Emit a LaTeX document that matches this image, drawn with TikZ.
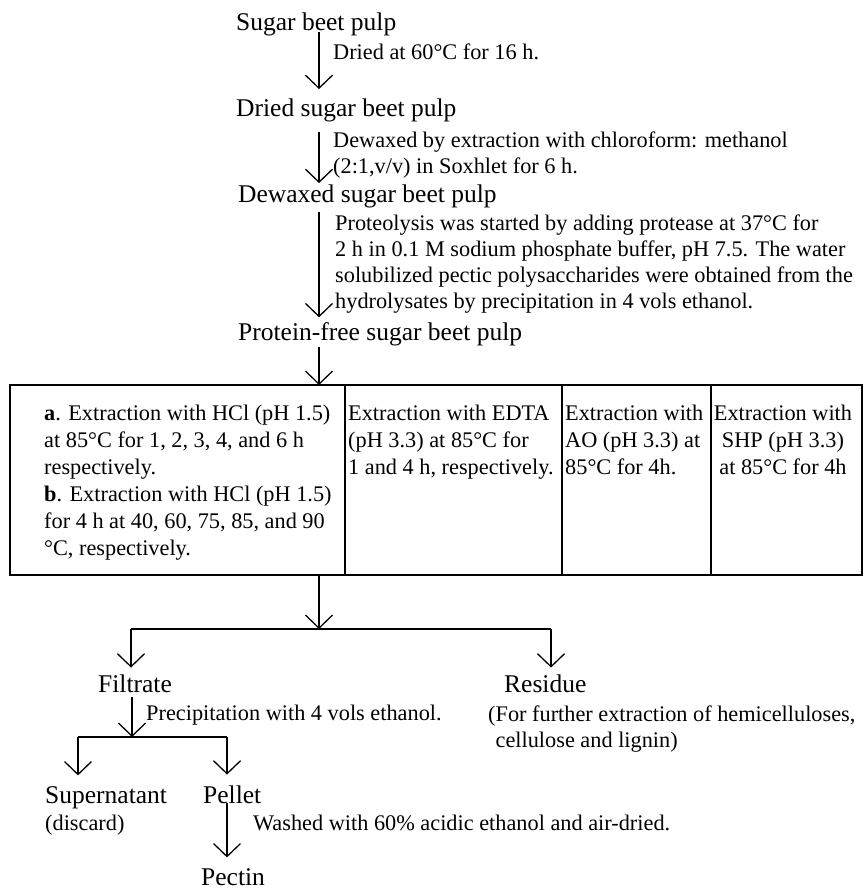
\documentclass[tikz,border=0pt]{standalone}
\usepackage{fontspec}
\setmainfont{Liberation Serif}
\usetikzlibrary{arrows.meta}
\tikzset{
  stage/.style={inner sep=0pt, anchor=base west, font=\fontsize{25.5}{30}\selectfont},
  note/.style={inner sep=0pt, anchor=base west, align=left, font=\fontsize{22.3}{26}\selectfont},
  cell/.style={draw, line width=1.3pt, inner sep=0pt, outer sep=0pt, anchor=north west, minimum height=190pt},
  cellnote/.style={inner sep=0pt, anchor=base west, align=left, font=\fontsize{22.3}{27}\selectfont},
  flow/.style={line width=1.3pt, -{Straight Barb[length=13pt,width=27pt]}},
  link/.style={line width=1.3pt}
}
\begin{document}
\begin{tikzpicture}[x=1pt, y=-1pt]
\useasboundingbox (0,0) rectangle (864,888);
\coordinate (ax) at (319,0);
\node[stage] (sbp) at (236,31) {Sugar beet pulp};
\node[note] (dry) at (333,60) {Dried at 60°C for 16 h.};
\node[stage] (dsbp) at (236,117) {Dried sugar beet pulp};
\node[note] (dewax) at (333,173) {Dewaxed by extraction with chloroform: methanol\\(2:1,v/v) in Soxhlet for 6 h.};
\node[stage] (dwsbp) at (238,202) {Dewaxed sugar beet pulp};
\node[note] (prot) at (335,308) {Proteolysis was started by adding protease at 37°C for\\2 h in 0.1 M sodium phosphate buffer, pH 7.5. The water\\solubilized pectic polysaccharides were obtained from the\\hydrolysates by precipitation in 4 vols ethanol.};
\node[stage] (pfsbp) at (238,340) {Protein-free sugar beet pulp};
\draw[flow] ([yshift=-1pt]sbp.base -| ax) -- ([yshift=10pt]dsbp.north -| ax);
\draw[flow] ([yshift=-9pt]dsbp.south -| ax) -- ([yshift=1pt]dwsbp.north -| ax);
\draw[flow] ([yshift=-4.5pt]dwsbp.south -| ax) -- ([yshift=4.5pt]pfsbp.north -| ax);
\node[cell, minimum width=335pt] (cella) at (10,385) {};
\node[cell, minimum width=217pt] (cellb) at (cella.north east) {};
\node[cell, minimum width=149pt] (cellc) at (cellb.north east) {};
\node[cell, minimum width=151pt] (celld) at (cellc.north east) {};
\draw[flow] ([yshift=-1.5pt]pfsbp.south -| ax) -- (cella.north -| ax);
\node[cellnote] (hcl) at (44,555) {\textbf{a}. Extraction with HCl (pH 1.5)\\at 85°C for 1, 2, 3, 4, and 6 h\\respectively.\\\textbf{b}. Extraction with HCl (pH 1.5)\\for 4 h at 40, 60, 75, 85, and 90\\°C, respectively.};
\node[cellnote] (edta) at (348,474) {Extraction with EDTA\\(pH 3.3) at 85°C for\\1 and 4 h, respectively.};
\node[cellnote] (ao) at (565,474) {Extraction with\\AO (pH 3.3) at\\85°C for 4h.};
\node[cellnote, anchor=base, align=center] (shp) at (783,474) {Extraction with\\SHP (pH 3.3)\\at 85°C for 4h};
\coordinate (spl) at (ax |- 0,629);
\coordinate (fl) at (131,629);
\coordinate (rl) at (551,629);
\draw[flow] (cella.south -| ax) -- (spl);
\draw[link] (fl) -- (rl);
\node[stage] (filt) at (98,692) {Filtrate};
\node[stage] (resid) at (504,692) {Residue};
\draw[flow] (fl) -- ([yshift=6.5pt]filt.north -| fl);
\draw[flow] (rl) -- ([yshift=6.5pt]resid.north -| rl);
\node[note] (precip) at (146,720) {Precipitation with 4 vols ethanol.};
\node[note] (further) at (488,747) {(For further extraction of hemicelluloses,\\\hphantom{(}cellulose and lignin)};
\coordinate (fs) at (132,737);
\coordinate (sl) at (78,737);
\coordinate (pl) at (227,737);
\draw[flow] ([yshift=-5pt]filt.base -| fs) -- (fs);
\draw[link] (sl) -- (pl);
\node[stage] (super) at (45,803) {Supernatant};
\node[stage] (pellet) at (203,803) {Pellet};
\draw[flow] (sl) -- ([yshift=10.5pt]super.north -| sl);
\draw[flow] (pl) -- ([yshift=10.5pt]pellet.north -| pl);
\node[note] (discard) at (45,830) {(discard)};
\node[note] (wash) at (253,830) {Washed with 60\% acidic ethanol and air-dried.};
\node[stage] (pectin) at (201,885) {Pectin};
\draw[flow] (pellet.base -| pl) -- ([yshift=10.5pt]pectin.north -| pl);
\end{tikzpicture}
\end{document}
